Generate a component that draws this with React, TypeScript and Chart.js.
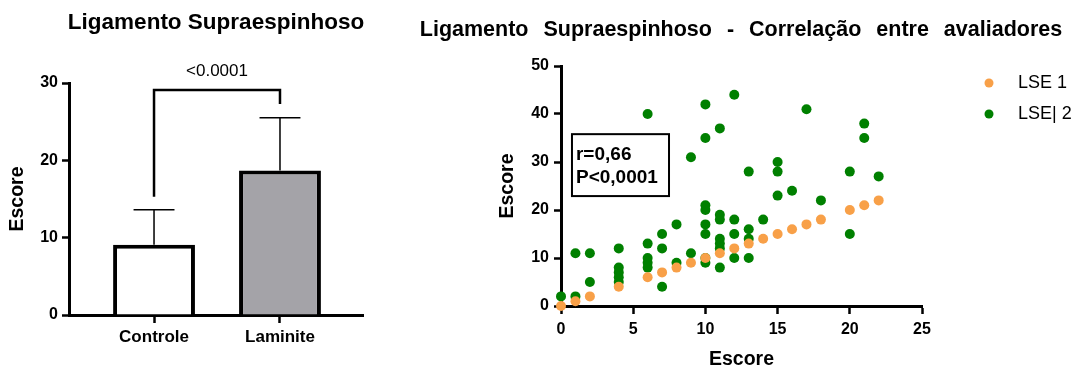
import React, { useEffect, useRef } from 'react';
import { Chart, registerables } from 'chart.js';

Chart.register(...registerables);

const FONT = '"Liberation Sans", Arial, Helvetica, sans-serif';

// ---------- Left chart: bar chart ----------
const barCategories = ['Controle', 'Laminite'];
const barMeans = [9.1, 18.7];
const barSD = [4.5, 6.8];
const barFill = ['#FFFFFF', '#A4A3A8'];
const barTitle = 'Ligamento Supraespinhoso';
const barYTitle = 'Escore';
const sigLabel = '<0.0001';
const sigLeftEnd = 15.3;
const sigTop = 29.1;
const sigRightEnd = 27.3;

// ---------- Right chart: scatter ----------
const scatterTitle = 'Ligamento Supraespinhoso - Correlação entre avaliadores';
const seriesNames = ['LSE 1', 'LSE| 2'];
const seriesColors = ['#F8A048', '#008000'];
const lse1X = [0, 1, 2, 4, 6, 7, 8, 9, 10, 11, 12, 13, 14, 15, 16, 17, 18, 20, 21, 22];
const lse1Y = [0, 1, 2, 4, 6, 7, 8, 9, 10, 11, 12, 13, 14, 15, 16, 17, 18, 20, 21, 22];
const lse2X = [
  0,
  1, 1,
  2, 2,
  4, 4, 4, 4, 4,
  6, 6, 6, 6, 6,
  7, 7, 7,
  8, 8,
  9, 9,
  10, 10, 10, 10, 10, 10, 10, 10,
  11, 11, 11, 11, 11, 11, 11,
  12, 12, 12, 12,
  13, 13, 13, 13,
  14,
  15, 15, 15,
  16,
  17,
  18,
  20, 20,
  21, 21,
  22,
];
const lse2Y = [
  2,
  2, 11,
  11, 5,
  12, 8, 7, 6, 5,
  40, 13, 10, 9, 8,
  15, 12, 4,
  17, 9,
  31, 11,
  42, 35, 21, 20, 17, 15, 10, 9,
  37, 19, 18, 14, 13, 12, 8,
  44, 18, 15, 10,
  28, 16, 14, 10,
  18,
  30, 28, 23,
  24,
  41,
  22,
  28, 15,
  38, 35,
  27,
];
const statsText = ['r=0,66', 'P<0,0001'];
const statsBox = { x0: 0.76, x1: 7.48, y0: 22.9, y1: 35.8 };
const axisTitle = 'Escore';

const tickFont = { family: FONT, size: 16, weight: 'bold' as const };

const barAnnotations = {
  id: 'barAnnotations',
  afterDatasetsDraw(chart: any) {
    const { ctx } = chart;
    const x = chart.scales.x;
    const y = chart.scales.y;
    const meta = chart.getDatasetMeta(0);
    ctx.save();
    ctx.strokeStyle = '#000';
    ctx.lineWidth = 1.5;
    meta.data.forEach((bar: any, i: number) => {
      const top = y.getPixelForValue(barMeans[i] + barSD[i]);
      const half = bar.width / 4;
      ctx.beginPath();
      ctx.moveTo(bar.x, bar.y);
      ctx.lineTo(bar.x, top);
      ctx.moveTo(bar.x - half, top);
      ctx.lineTo(bar.x + half, top);
      ctx.stroke();
    });
    const xl = x.getPixelForValue(0);
    const xr = x.getPixelForValue(1);
    const yt = y.getPixelForValue(sigTop);
    ctx.lineWidth = 2.5;
    ctx.beginPath();
    ctx.moveTo(xl, y.getPixelForValue(sigLeftEnd));
    ctx.lineTo(xl, yt);
    ctx.lineTo(xr, yt);
    ctx.lineTo(xr, y.getPixelForValue(sigRightEnd));
    ctx.stroke();
    ctx.fillStyle = '#000';
    ctx.font = `17px ${FONT}`;
    ctx.textAlign = 'center';
    ctx.textBaseline = 'middle';
    ctx.fillText(sigLabel, (xl + xr) / 2, yt - 19);
    ctx.restore();
  },
};

const scatterExtras = {
  id: 'scatterExtras',
  beforeDraw(chart: any) {
    (chart.ctx as any).wordSpacing = '9px';
  },
  beforeDatasetsDraw(chart: any) {
    (chart.ctx as any).wordSpacing = '0px';
  },
  afterDraw(chart: any) {
    const { ctx, chartArea } = chart;
    const x = chart.scales.x;
    const y = chart.scales.y;
    ctx.save();
    (ctx as any).wordSpacing = '0px';
    // stats box
    const bx0 = x.getPixelForValue(statsBox.x0);
    const bx1 = x.getPixelForValue(statsBox.x1);
    const by0 = y.getPixelForValue(statsBox.y1);
    const by1 = y.getPixelForValue(statsBox.y0);
    ctx.strokeStyle = '#000';
    ctx.lineWidth = 2;
    ctx.strokeRect(bx0, by0, bx1 - bx0, by1 - by0);
    ctx.fillStyle = '#000';
    ctx.font = `bold 19px ${FONT}`;
    ctx.textAlign = 'left';
    ctx.textBaseline = 'middle';
    statsText.forEach((t, i) => ctx.fillText(t, bx0 + 4, by0 + 21 + i * 23));
    // legend
    const lx = chartArea.right + 67;
    chart.data.datasets.forEach((ds: any, i: number) => {
      const ly = chartArea.top + 17 + i * 31;
      ctx.fillStyle = ds.backgroundColor;
      ctx.beginPath();
      ctx.arc(lx, ly, 4.5, 0, Math.PI * 2);
      ctx.fill();
      ctx.fillStyle = '#000';
      ctx.font = `18px ${FONT}`;
      ctx.fillText(ds.label, lx + 29, ly);
    });
    ctx.restore();
  },
};

function leftConfig(): any {
  return {
    type: 'bar',
    data: {
      datasets: [
        {
          label: barYTitle,
          data: barCategories.map((_, i) => ({ x: i, y: barMeans[i] })),
          backgroundColor: barFill,
          borderColor: '#000',
          borderWidth: 4,
          borderSkipped: 'start',
          categoryPercentage: 1,
          barPercentage: 0.65,
          xAxisID: 'x',
          yAxisID: 'y',
        },
      ],
    },
    options: {
      responsive: false,
      animation: false,
      events: [],
      layout: { padding: 0 },
      plugins: {
        legend: { display: false },
        tooltip: { enabled: false },
        title: {
          display: true,
          text: barTitle,
          color: '#000',
          font: { family: FONT, size: 22.5, weight: 'bold' },
          padding: { top: 9, bottom: 47 },
        },
      },
      scales: {
        x: {
          type: 'linear',
          min: -0.675,
          max: 1.659,
          offset: false,
          afterBuildTicks: (s: any) => {
            s.ticks = barCategories.map((_, i) => ({ value: i }));
          },
          ticks: {
            callback: (v: any) => barCategories[v],
            color: '#000',
            font: { family: FONT, size: 17, weight: 'bold' },
            padding: 4,
            autoSkip: false,
            maxRotation: 0,
          },
          grid: { offset: false, drawOnChartArea: false, tickLength: 8, tickWidth: 2.5, tickColor: '#000', color: '#000' },
          border: { color: '#000', width: 3 },
          afterFit: (s: any) => {
            s.height = 54;
          },
        },
        y: {
          type: 'linear',
          min: 0,
          max: 30,
          ticks: { stepSize: 10, color: '#000', font: tickFont, padding: 4 },
          grid: { drawOnChartArea: false, tickLength: 7, tickWidth: 2.5, tickColor: '#000', color: '#000' },
          border: { color: '#000', width: 3 },
          title: {
            display: true,
            text: barYTitle,
            color: '#000',
            font: { family: FONT, size: 19.5, weight: 'bold' },
            padding: { top: 6.3, bottom: 0 },
          },
          afterFit: (s: any) => {
            s.width = 69;
          },
        },
        pad: {
          type: 'linear',
          position: 'right',
          display: true,
          ticks: { display: false },
          grid: { display: false },
          border: { display: false },
          afterFit: (s: any) => {
            s.width = 69;
          },
        },
      },
    },
    plugins: [barAnnotations],
  };
}

function rightConfig(): any {
  return {
    type: 'scatter',
    data: {
      datasets: [
        {
          label: seriesNames[0],
          data: lse1X.map((v, i) => ({ x: v, y: lse1Y[i] })),
          backgroundColor: seriesColors[0],
          borderColor: seriesColors[0],
          pointRadius: 5,
          pointBorderWidth: 0,
          clip: false,
          xAxisID: 'x',
          yAxisID: 'y',
        },
        {
          label: seriesNames[1],
          data: lse2X.map((v, i) => ({ x: v, y: lse2Y[i] })),
          backgroundColor: seriesColors[1],
          borderColor: seriesColors[1],
          pointRadius: 5,
          pointBorderWidth: 0,
          clip: false,
          xAxisID: 'x',
          yAxisID: 'y',
        },
      ],
    },
    options: {
      responsive: false,
      animation: false,
      events: [],
      layout: { padding: 0 },
      plugins: {
        legend: { display: false },
        tooltip: { enabled: false },
        title: {
          display: true,
          text: scatterTitle,
          color: '#000',
          font: { family: FONT, size: 21.5, weight: 'bold' },
          padding: { top: 17, bottom: 23.2 },
        },
      },
      scales: {
        x: {
          type: 'linear',
          min: 0,
          max: 25,
          ticks: { stepSize: 5, color: '#000', font: tickFont, padding: 6.4 },
          grid: { drawOnChartArea: false, tickLength: 8, tickWidth: 2.5, tickColor: '#000', color: '#000' },
          border: { color: '#000', width: 3 },
          title: {
            display: true,
            text: axisTitle,
            color: '#000',
            font: { family: FONT, size: 19.5, weight: 'bold', lineHeight: 1 },
            padding: { top: 0, bottom: 0 },
          },
          afterFit: (s: any) => {
            s.height = 63;
          },
        },
        y: {
          type: 'linear',
          min: 0,
          max: 50,
          ticks: { stepSize: 10, color: '#000', font: tickFont, padding: 5 },
          grid: { drawOnChartArea: false, tickLength: 7, tickWidth: 2.5, tickColor: '#000', color: '#000' },
          border: { color: '#000', width: 3 },
          title: {
            display: true,
            text: axisTitle,
            color: '#000',
            font: { family: FONT, size: 19.5, weight: 'bold' },
            padding: { top: 95.3, bottom: 0 },
          },
          afterFit: (s: any) => {
            s.width = 160;
          },
        },
        pad: {
          type: 'linear',
          position: 'right',
          display: true,
          ticks: { display: false },
          grid: { display: false },
          border: { display: false },
          afterFit: (s: any) => {
            s.width = 159;
          },
        },
      },
    },
    plugins: [scatterExtras],
  };
}

export default function App() {
  const leftRef = useRef<HTMLCanvasElement>(null);
  const rightRef = useRef<HTMLCanvasElement>(null);

  useEffect(() => {
    const c1 = new Chart(leftRef.current as HTMLCanvasElement, leftConfig());
    const c2 = new Chart(rightRef.current as HTMLCanvasElement, rightConfig());
    return () => {
      c1.destroy();
      c2.destroy();
    };
  }, []);

  return (
    <div
      style={{
        position: 'absolute',
        left: 0,
        top: 0,
        width: 1081,
        height: 369,
        background: '#fff',
        overflow: 'hidden',
      }}
    >
      <canvas
        ref={leftRef}
        width={432}
        height={369}
        style={{ position: 'absolute', left: 0, top: 0, width: 432, height: 369 }}
      />
      <canvas
        ref={rightRef}
        width={680}
        height={369}
        style={{ position: 'absolute', left: 401, top: 0, width: 680, height: 369 }}
      />
    </div>
  );
}
